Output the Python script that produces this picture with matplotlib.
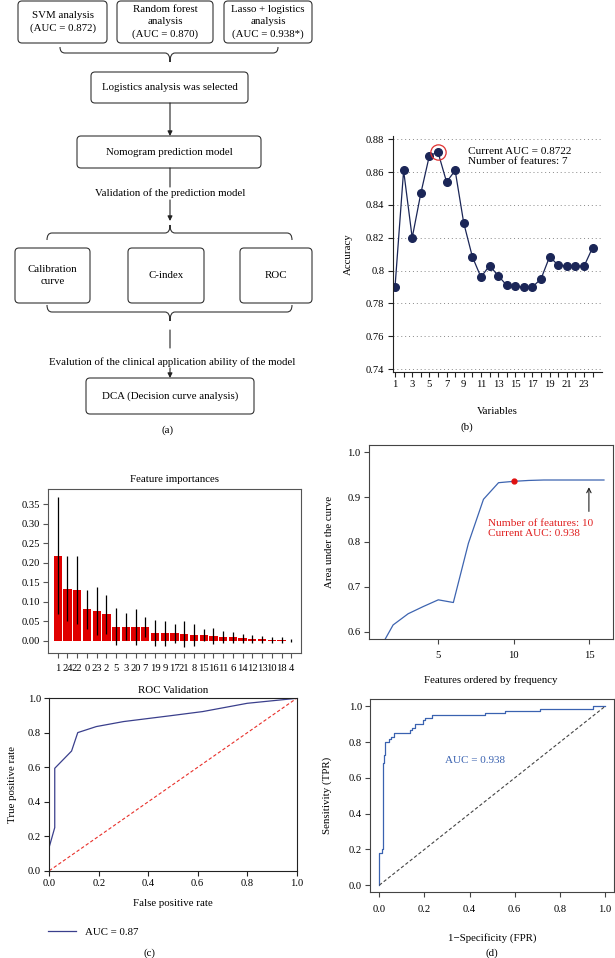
import numpy as np
import matplotlib
matplotlib.use('Agg')
import matplotlib.pyplot as plt
from matplotlib.patches import FancyBboxPatch, PathPatch
from matplotlib.path import Path

plt.rcParams['font.family'] = ['Liberation Serif', 'DejaVu Serif']
plt.rcParams['font.size'] = 7.8

W, H = 615, 958

# (b) accuracy by number of variables
n_vars = list(range(1, 25))
accuracy = [0.790, 0.861, 0.820, 0.847, 0.870, 0.8722, 0.854, 0.861, 0.829, 0.8085,
            0.796, 0.803, 0.797, 0.791, 0.7904, 0.790, 0.790, 0.795, 0.8085, 0.8032,
            0.803, 0.8028, 0.8026, 0.814]

# (c) random forest feature importances
feat_labels = ['1', '24', '22', '0', '23', '2', '5', '3', '20', '7', '19', '9', '17',
               '21', '8', '15', '16', '11', '6', '14', '12', '13', '10', '18', '4']
importances = [0.218, 0.133, 0.131, 0.081, 0.076, 0.068, 0.037, 0.037, 0.035, 0.035,
               0.021, 0.020, 0.020, 0.018, 0.016, 0.015, 0.013, 0.0095, 0.009, 0.007,
               0.005, 0.004, 0.003, 0.002, 0.001]
imp_std = [0.150, 0.083, 0.087, 0.050, 0.061, 0.050, 0.047, 0.034, 0.046, 0.026,
           0.033, 0.032, 0.024, 0.034, 0.028, 0.015, 0.021, 0.015, 0.014, 0.011,
           0.010, 0.008, 0.008, 0.007, 0.003]

# (c) ROC validation
fpr_c = [0, 0, 0.022, 0.022, 0.09, 0.115, 0.19, 0.30, 0.49, 0.62, 0.80, 1.0]
tpr_c = [0, 0.139, 0.25, 0.594, 0.694, 0.801, 0.836, 0.865, 0.899, 0.923, 0.971, 1.0]

# (d) AUC by number of features
n_feat = list(range(1, 17))
auc_feat = [0.555, 0.615, 0.640, 0.656, 0.671, 0.665, 0.797, 0.895, 0.932, 0.935,
            0.937, 0.938, 0.938, 0.938, 0.938, 0.938]

# (d) ROC of lasso + logistics
fpr_d = [0, 0, 0.012, 0.012, 0.015, 0.015, 0.019, 0.019, 0.024, 0.024, 0.041, 0.041,
         0.05, 0.05, 0.066, 0.066, 0.134, 0.134, 0.146, 0.146, 0.159, 0.159, 0.193,
         0.193, 0.204, 0.204, 0.233, 0.233, 0.469, 0.469, 0.557, 0.557, 0.712, 0.712,
         0.948, 0.948, 1.0]
tpr_d = [0, 0.179, 0.179, 0.204, 0.204, 0.683, 0.683, 0.73, 0.73, 0.80, 0.80, 0.82,
         0.82, 0.83, 0.83, 0.854, 0.854, 0.87, 0.87, 0.879, 0.879, 0.901, 0.901, 0.925,
         0.925, 0.938, 0.938, 0.95, 0.95, 0.963, 0.963, 0.976, 0.976, 0.987, 0.987,
         1.0, 1.0]

fig = plt.figure(figsize=(W / 100, H / 100), dpi=100)

TXT = 7.8   # body text
TICK = 7.6  # tick labels
LAB = 7.8   # axis labels


def px_axes(l, t, r, b):
    return fig.add_axes([l / W, 1 - b / H, (r - l) / W, (b - t) / H])


def style(ax, color='#222222'):
    for s in ax.spines.values():
        s.set_color(color)
        s.set_linewidth(0.8)
    ax.tick_params(direction='out', length=3.5, width=0.8, labelsize=TICK,
                   color=color, pad=2.5)


# ---- overlay for flowchart and panel labels
ax0 = fig.add_axes([0, 0, 1, 1])
ax0.set_xlim(0, W)
ax0.set_ylim(H, 0)
ax0.axis('off')

ec = '#333333'


def box(x0, y0, x1, y1, txt, ls=1.3):
    ax0.add_patch(FancyBboxPatch((x0, y0), x1 - x0, y1 - y0,
                                 boxstyle='round,pad=0,rounding_size=4',
                                 fc='white', ec=ec, lw=0.8))
    ax0.text((x0 + x1) / 2, (y0 + y1) / 2, txt, ha='center', va='center',
             fontsize=TXT, linespacing=ls)


def brace(x1, x2, xc, y_end, y_mid, y_tip, r=5):
    verts = [(x1, y_end), (x1, y_mid), (x1 + r, y_mid), (xc - r, y_mid),
             (xc, y_mid), (xc, y_tip), (xc, y_mid), (xc + r, y_mid),
             (x2 - r, y_mid), (x2, y_mid), (x2, y_end)]
    codes = [Path.MOVETO, Path.CURVE3, Path.CURVE3, Path.LINETO, Path.CURVE3,
             Path.CURVE3, Path.CURVE3, Path.CURVE3, Path.LINETO, Path.CURVE3,
             Path.CURVE3]
    ax0.add_patch(PathPatch(Path(verts, codes), fc='none', ec=ec, lw=0.8))


def arrow(x, y0, y1, head=True):
    ax0.annotate('', xy=(x, y1), xytext=(x, y0),
                 arrowprops=dict(arrowstyle='-|>' if head else '-', color='#222222',
                                 lw=0.8, mutation_scale=7, shrinkA=0, shrinkB=0))


box(18, 1, 107, 43, 'SVM analysis\n(AUC = 0.872)', ls=1.5)
box(117, 1, 213, 43, 'Random forest\nanalysis\n(AUC = 0.870)', ls=1.5)
box(224, 1, 312, 43, 'Lasso + logistics\nanalysis\n(AUC = 0.938*)', ls=1.5)
brace(60, 278, 170, 47, 53, 62)
box(91, 72, 248, 103, 'Logistics analysis was selected')
arrow(170, 103, 136)
box(77, 136, 261, 168, 'Nomogram prediction model')
arrow(170, 168, 187, head=False)
ax0.text(170, 193, 'Validation of the prediction model', ha='center', va='center',
         fontsize=TXT)
arrow(170, 200, 221)
brace(47, 292, 170, 240, 233, 225)
box(15, 248, 90, 303, 'Calibration\ncurve', ls=1.45)
box(128, 248, 204, 303, 'C-index')
box(240, 248, 312, 303, 'ROC')
brace(47, 292, 170, 305, 312, 321)
arrow(170, 330, 348, head=False)
ax0.text(172, 362, 'Evalution of the clinical application ability of the model',
         ha='center', va='center', fontsize=TXT)
arrow(170, 368, 378)
box(86, 378, 254, 414, 'DCA (Decision curve analysis)')

for lab, x, y in [('(a)', 167, 430), ('(b)', 467, 427), ('(c)', 149, 953),
                  ('(d)', 492, 953)]:
    ax0.text(x, y, lab, ha='center', va='center', fontsize=TXT)

# ---- (b) accuracy
axb = px_axes(392.7, 136, 601.7, 371.7)
navy = '#1b2657'
axb.plot(n_vars, accuracy, '-o', color=navy, lw=0.9, ms=5.5, mfc=navy, mec=navy)
best = int(np.argmax(accuracy))
axb.plot(n_vars[best], accuracy[best], 'o', ms=11, mfc='none', mec='#e03030', mew=0.9)
axb.text(9.5, 0.8695, 'Current AUC = 0.8722\nNumber of features: 7', va='center',
         fontsize=8.1, linespacing=1.25)
axb.set_xlim(0.73, 25.06)
axb.set_ylim(0.7384, 0.882)
yt = np.arange(0.74, 0.881, 0.02)
axb.set_yticks(yt)
axb.set_yticklabels([('%.2f' % v).rstrip('0') for v in yt])
axb.set_xticks(n_vars)
axb.set_xticklabels([str(v) if v % 2 == 1 else '' for v in n_vars])
axb.yaxis.grid(True, linestyle=(0, (1, 3)), color='#888888', lw=0.7)
axb.set_axisbelow(True)
axb.spines['top'].set_visible(False)
axb.spines['right'].set_visible(False)
style(axb)
axb.set_ylabel('Accuracy', fontsize=LAB, labelpad=9)
axb.set_xlabel('Variables', fontsize=LAB, labelpad=13)

# ---- (c) feature importances
axc = px_axes(48, 489, 301, 653.3)
idx = np.arange(len(importances))
axc.bar(idx, importances, width=0.85, color='#e00000', yerr=imp_std,
        error_kw=dict(ecolor='black', elinewidth=0.9, capsize=0))
axc.set_xlim(-1, 25)
axc.set_ylim(-0.0315, 0.3885)
axc.set_xticks(idx)
axc.set_xticklabels(feat_labels)
axc.set_yticks(np.arange(0, 0.36, 0.05))
axc.set_yticklabels(['%.2f' % v for v in np.arange(0, 0.36, 0.05)])
style(axc, '#555555')
axc.tick_params(axis='x', pad=4)
axc.set_title('Feature importances', fontsize=LAB, pad=5)

# ---- (c) ROC validation
axr = px_axes(49.3, 698.3, 296.7, 870.7)
axr.plot(fpr_c, tpr_c, color='#3a3f8c', lw=0.9, label='AUC = 0.87')
axr.plot([0, 1], [0, 1], color='#e8302a', lw=0.8, ls=(0, (3, 2)))
axr.set_xlim(0, 1)
axr.set_ylim(0, 1)
axr.set_xticks(np.arange(0, 1.01, 0.2))
axr.set_yticks(np.arange(0, 1.01, 0.2))
axr.xaxis.set_major_formatter(matplotlib.ticker.FormatStrFormatter('%.1f'))
axr.yaxis.set_major_formatter(matplotlib.ticker.FormatStrFormatter('%.1f'))
style(axr)
axr.set_title('ROC Validation', fontsize=LAB, pad=4)
axr.set_xlabel('False positive rate', fontsize=LAB, labelpad=8)
axr.set_ylabel('True positive rate', fontsize=LAB, labelpad=8)
axr.legend(loc='center left', bbox_to_anchor=(48 / W, 1 - 932 / H),
           bbox_transform=fig.transFigure, frameon=False, fontsize=LAB,
           handlelength=2.6, borderpad=0, borderaxespad=0, handletextpad=0.8)

# ---- (d) AUC by features
axd = px_axes(369, 445, 613, 639)
axd.plot(n_feat, auc_feat, color='#3d64b0', lw=0.9)
axd.plot(n_feat[9], auc_feat[9], 'o', color='#e01010', ms=3.5)
axd.annotate('', xy=(15, 0.922), xytext=(15, 0.868),
             arrowprops=dict(arrowstyle='->', color='#222222', lw=0.8,
                             shrinkA=0, shrinkB=0))
axd.text(8.3, 0.830, 'Number of features: 10\nCurrent AUC: 0.938', color='#e02020',
         va='center', fontsize=8.1, linespacing=1.25)
axd.set_xlim(0.4, 16.6)
axd.set_ylim(0.5837, 1.016)
axd.set_xticks([5, 10, 15])
axd.set_yticks([0.6, 0.7, 0.8, 0.9, 1.0])
axd.yaxis.set_major_formatter(matplotlib.ticker.FormatStrFormatter('%.1f'))
style(axd, '#444444')
axd.tick_params(axis='x', pad=5)
axd.set_xlabel('Features ordered by frequency', fontsize=LAB, labelpad=11)
axd.set_ylabel('Area under the curve', fontsize=LAB, labelpad=10)

# ---- (d) ROC
axe = px_axes(370.3, 699.3, 614, 892.3)
axe.plot(fpr_d, tpr_d, color='#3a62b0', lw=0.9)
axe.plot([0, 1], [0, 1], color='#444444', lw=0.8, ls=(0, (3, 2)))
axe.text(0.425, 0.70, 'AUC = 0.938', color='#3a62b0', ha='center', va='center',
         fontsize=8)
axe.set_xlim(-0.04, 1.04)
axe.set_ylim(-0.04, 1.04)
axe.set_xticks(np.arange(0, 1.01, 0.2))
axe.set_yticks(np.arange(0, 1.01, 0.2))
axe.xaxis.set_major_formatter(matplotlib.ticker.FormatStrFormatter('%.1f'))
axe.yaxis.set_major_formatter(matplotlib.ticker.FormatStrFormatter('%.1f'))
style(axe, '#444444')
axe.tick_params(axis='x', pad=6)
axe.set_xlabel('1\u2212Specificity (FPR)', fontsize=LAB, labelpad=13)
axe.set_ylabel('Sensitivity (TPR)', fontsize=LAB, labelpad=12)

fig.savefig('out.png', dpi=100)
